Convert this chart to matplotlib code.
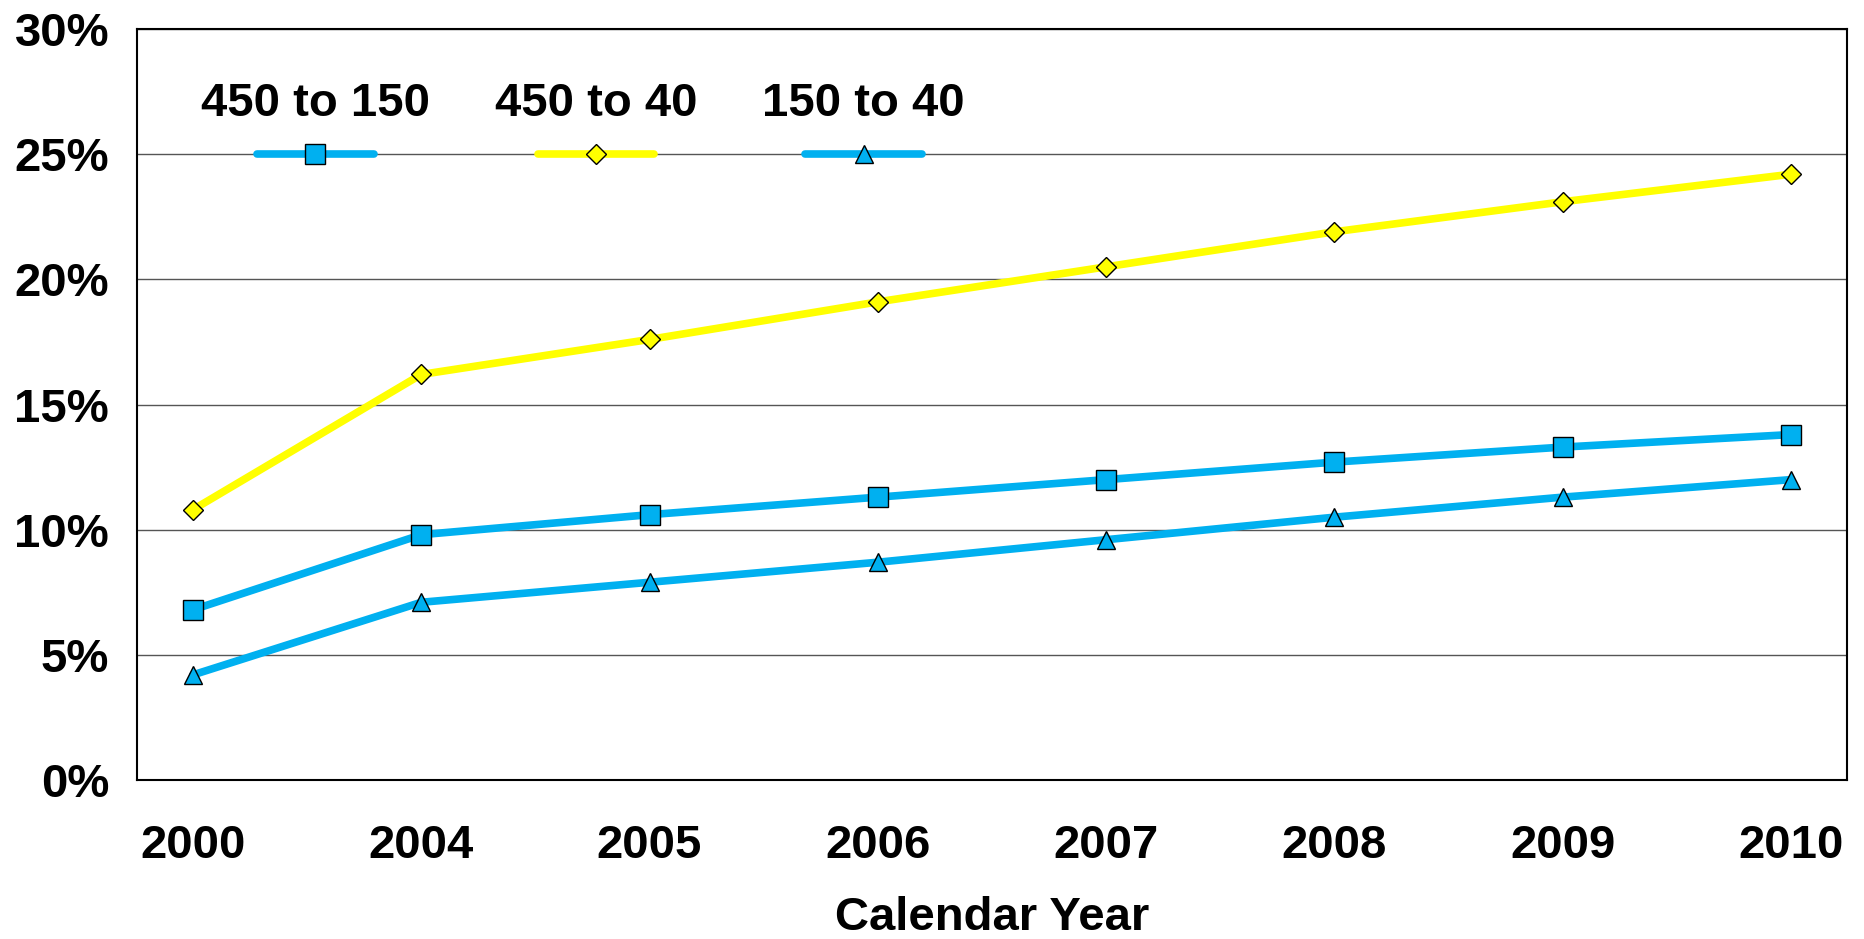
import matplotlib
matplotlib.use("Agg")
import matplotlib.pyplot as plt
from matplotlib.lines import Line2D
from matplotlib.ticker import FuncFormatter

plt.rcParams['font.family'] = ['Liberation Sans', 'DejaVu Sans']
plt.rcParams['font.weight'] = 'bold'

# data
years = ['2000', '2004', '2005', '2006', '2007', '2008', '2009', '2010']
s450_150 = [6.8, 9.8, 10.6, 11.3, 12.0, 12.7, 13.3, 13.8]
s450_40 = [10.8, 16.2, 17.6, 19.1, 20.5, 21.9, 23.1, 24.2]
s150_40 = [4.2, 7.1, 7.9, 8.7, 9.6, 10.5, 11.3, 12.0]
labels = ['450 to 150', '450 to 40', '150 to 40']

BLUE = '#00B0F0'
YELLOW = '#FFFF00'

fig = plt.figure(figsize=(18.64, 9.39), dpi=100)
ax = fig.add_subplot(1, 1, 1)
plt.subplots_adjust(left=0.0735, right=0.9909, top=0.9691, bottom=0.1693)

x = range(len(years))
styles = [
    (s450_150, BLUE, 's', 14),
    (s450_40, YELLOW, 'D', 10),
    (s150_40, BLUE, '^', 13),
]
for vals, col, mk, ms in styles:
    ax.plot(x, vals, color=col, lw=5.5, marker=mk, markersize=ms,
            markerfacecolor=col, markeredgecolor='black', markeredgewidth=1,
            solid_capstyle='round', zorder=3)

ax.set_xlim(-0.245, len(years) - 1 + 0.245)
ax.set_ylim(0, 30)
ax.set_yticks(range(0, 31, 5))
ax.yaxis.set_major_formatter(FuncFormatter(lambda v, p: '%d%%' % v))
ax.set_xticks(list(x))
ax.set_xticklabels(years)
ax.tick_params(axis='both', length=0, labelsize=34)
ax.tick_params(axis='x', pad=32)
ax.tick_params(axis='y', pad=20)
ax.grid(axis='y', color='#555555', lw=1)
ax.set_axisbelow(True)
for sp in ax.spines.values():
    sp.set_color('black')
    sp.set_linewidth(1.5)

ax.set_xlabel('Calendar Year', fontsize=34, fontweight='bold', labelpad=20)

# legend: label above its key
key_x = [0.1043, 0.2684, 0.4249]
for (vals, col, mk, ms), lab, cx in zip(styles, labels, key_x):
    ax.add_line(Line2D([cx - 0.034, cx + 0.034], [0.8333, 0.8333], transform=ax.transAxes,
                       color=col, lw=5.5, solid_capstyle='round', zorder=4))
    ax.add_line(Line2D([cx], [0.8333], transform=ax.transAxes, color=col, lw=0,
                       marker=mk, markersize=ms, markerfacecolor=col,
                       markeredgecolor='black', markeredgewidth=1, zorder=5))
    ax.text(cx, 0.90, lab, transform=ax.transAxes, ha='center', va='center',
            fontsize=34, fontweight='bold')

fig.savefig('out.png', dpi=100)
